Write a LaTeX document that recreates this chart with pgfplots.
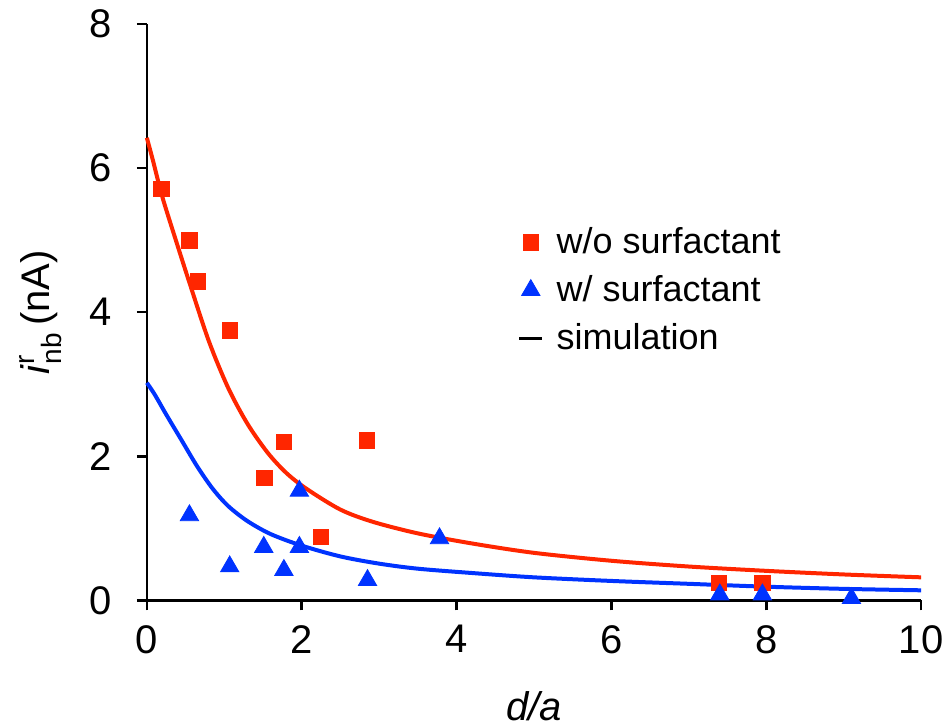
\documentclass[border=0pt]{standalone}
\usepackage{fontspec}
\setmainfont{Liberation Sans}
\usepackage{amsmath}
\usepackage{pgfplots}
\pgfplotsset{compat=1.18}
\definecolor{myred}{RGB}{255,38,0}
\definecolor{myblue}{RGB}{0,51,255}
\pgfplotsset{simleg/.style={legend image code/.code={\draw[black,line width=1.5pt] (0.1cm,0cm)--(0.5cm,0cm);}}}
\begin{document}
\begin{tikzpicture}
\begin{axis}[
  scale only axis,
  width=387.5pt, height=288.5pt,
  xmin=0, xmax=10, ymin=0, ymax=8,
  axis lines=left,
  axis line style={line width=1.3pt, -},
  xtick={0,2,4,6,8,10}, ytick={0,2,4,6,8},
  tick align=outside,
  major tick length=5pt,
  tick style={line width=1.3pt, black},
  /pgf/number format/assume math mode=true,
  ticklabel style={font=\fontsize{20}{24}\selectfont},
  xticklabel style={yshift=-4pt},
  yticklabel style={xshift=-9pt},
  xlabel={\textit{d/a}},
  xlabel style={font=\fontsize{20}{24}\selectfont, at={(axis description cs:0.5,-0.184)}, anchor=center},
  ylabel={\textit{i}$^{\text{r}}_{\text{nb}}$\,(nA)},
  ylabel style={font=\fontsize{20}{24}\selectfont, at={(axis description cs:-0.137,0.5)}, anchor=center},
  clip=false,
  legend cell align=left,
  legend style={draw=none, fill=none, font=\fontsize{18}{22}\selectfont,
    at={(axis cs:4.71,5.29)}, anchor=north west, row sep=5.5pt,
    /tikz/every odd column/.append style={column sep=4.5pt}},
]
\path (rel axis cs:0,0) ++(-73.5pt,-61pt);
\path (rel axis cs:1,1) ++(14pt,12pt);
\addplot[only marks, mark=square*, mark size=3.9pt, color=myred] coordinates {
(0.19,5.71) (0.55,5.00) (0.66,4.43) (1.07,3.75) (1.77,2.20) (1.52,1.70)
(2.84,2.22) (2.25,0.88) (7.39,0.24) (7.95,0.24)
};
\addlegendentry{w/o surfactant}
\addplot[only marks, mark=triangle*, mark size=5.3pt, color=myblue] coordinates {
(0.55,1.18) (1.97,1.52) (1.07,0.47) (1.51,0.74) (1.77,0.42) (1.97,0.74)
(2.85,0.28) (3.78,0.86) (7.40,0.08) (7.95,0.08) (9.10,0.03)
};
\addlegendentry{w/ surfactant}
\addlegendimage{simleg}
\addlegendentry{simulation}
\addplot[myred, line width=2pt, smooth, forget plot] coordinates {
(0,6.42) (0.08,6.1) (0.2,5.6) (0.38,4.98) (0.55,4.41) (0.8,3.6) (1.05,2.95)
(1.3,2.45) (1.56,2.05) (1.8,1.77) (2.06,1.55) (2.5,1.26) (2.92,1.09)
(3.5,0.93) (4.2,0.79) (5,0.66) (6,0.55) (7,0.47) (8,0.41) (9,0.36) (10,0.32)
};
\addplot[myblue, line width=2pt, smooth, forget plot] coordinates {
(0,3.02) (0.1,2.86) (0.25,2.58) (0.45,2.22) (0.65,1.86) (0.85,1.55) (1.05,1.31)
(1.3,1.10) (1.6,0.92) (2.0,0.76) (2.5,0.61) (3,0.51) (3.5,0.44) (4.2,0.38)
(5,0.32) (6,0.27) (7,0.23) (8,0.19) (9,0.16) (10,0.14)
};
\end{axis}
\end{tikzpicture}
\end{document}
